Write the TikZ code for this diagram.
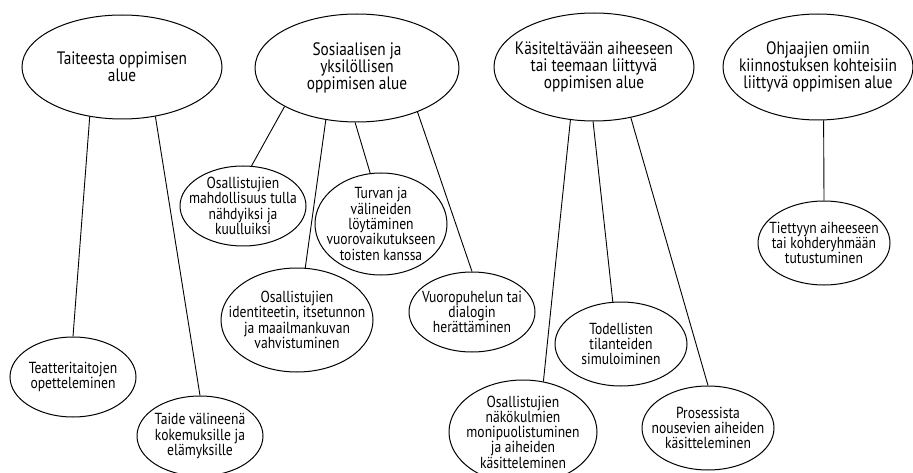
\documentclass[tikz,border=0pt]{standalone}
\usepackage{fontspec}
\setmainfont{PT Sans}[FakeStretch = 0.85]
\usepackage{tikz}
\usetikzlibrary{shapes.geometric}
\tikzstyle{area} = [ellipse, draw = black, line width = 1pt, inner sep = -20pt, align = center, font = \fontsize{18}{16.7}\selectfont]
\tikzstyle{aim} = [area, font = \fontsize{16}{15.3}\selectfont]
\tikzstyle{link} = [line width = 0.9pt]

\begin{document}
\begin{tikzpicture}[x = 1pt, y = -1pt]
		\useasboundingbox (0, 0) rectangle (913, 473);
		% Области обучения
		\node[area, minimum width = 200pt, minimum height = 104pt] (taide) at (122, 67) {Taiteesta oppimisen\\alue};
		\node[area, minimum width = 204pt, minimum height = 108pt] (sosiaal) at (357, 68) {Sosiaalisen ja\\yksilöllisen\\oppimisen alue};
		\node[area, minimum width = 200pt, minimum height = 108pt] (aihe) at (594, 67) {Käsiteltävään aiheeseen\\tai teemaan liittyvä\\oppimisen alue};
		\node[area, minimum width = 190pt, minimum height = 106pt] (ohjaaja) at (818, 67) {Ohjaajien omiin\\kiinnostuksen kohteisiin\\liittyvä oppimisen alue};
		% Цели
		\node[aim, minimum width = 126pt, minimum height = 80pt] (teatteri) at (73, 377) {Teatteritaitojen\\opetteleminen};
		\node[aim, minimum width = 126pt, minimum height = 80pt] (valine) at (200, 436) {Taide välineenä\\kokemuksille ja\\elämyksille};
		\node[aim, minimum width = 126pt, minimum height = 80pt] (nahdyksi) at (243, 206) {Osallistujien\\mahdollisuus tulla\\nähdyiksi ja\\kuulluiksi};
		\node[aim, minimum width = 132pt, minimum height = 102pt] (turva) at (381, 224) {Turvan ja\\välineiden\\löytäminen\\vuorovaikutukseen\\toisten kanssa};
		\node[aim, minimum width = 152pt, minimum height = 104pt] (identiteetti) at (297, 320) {Osallistujien\\identiteetin, itsetunnon\\ja maailmankuvan\\vahvistuminen};
		\node[aim, minimum width = 126pt, minimum height = 80pt] (dialogi) at (472, 312) {Vuoropuhelun tai\\dialogin\\herättäminen};
		\node[aim, minimum width = 148pt, minimum height = 104pt] (nakokulma) at (523, 432) {Osallistujien\\näkökulmien\\monipuolistuminen\\ja aiheiden\\käsitteleminen};
		\node[aim, minimum width = 132pt, minimum height = 84pt] (simulointi) at (621, 344) {Todellisten\\tilanteiden\\simuloiminen};
		\node[aim, minimum width = 132pt, minimum height = 84pt] (prosessi) at (708, 428) {Prosessista\\nousevien aiheiden\\käsitteleminen};
		\node[aim, minimum width = 132pt, minimum height = 84pt] (kohderyhma) at (824, 243) {Tiettyyn aiheeseen\\tai kohderyhmään\\tutustuminen};
		% Связи
		\draw[link] (taide.237) -- (teatteri.90);
		\draw[link] (taide.304) -- (valine.90);
		\draw[link] (sosiaal.208) -- (nahdyksi.78);
		\draw[link] (sosiaal.239) -- (identiteetti.81);
		\draw[link] (sosiaal.268) -- (turva.102);
		\draw[link] (sosiaal.324) -- (dialogi.90);
		\draw[link] (aihe.246) -- (nakokulma.68);
		\draw[link] (aihe.269) -- (simulointi.101);
		\draw[link] (aihe.306) -- (prosessi.90);
		\draw[link] (ohjaaja.276) -- (kohderyhma.90);
	\end{tikzpicture}
\end{document}
